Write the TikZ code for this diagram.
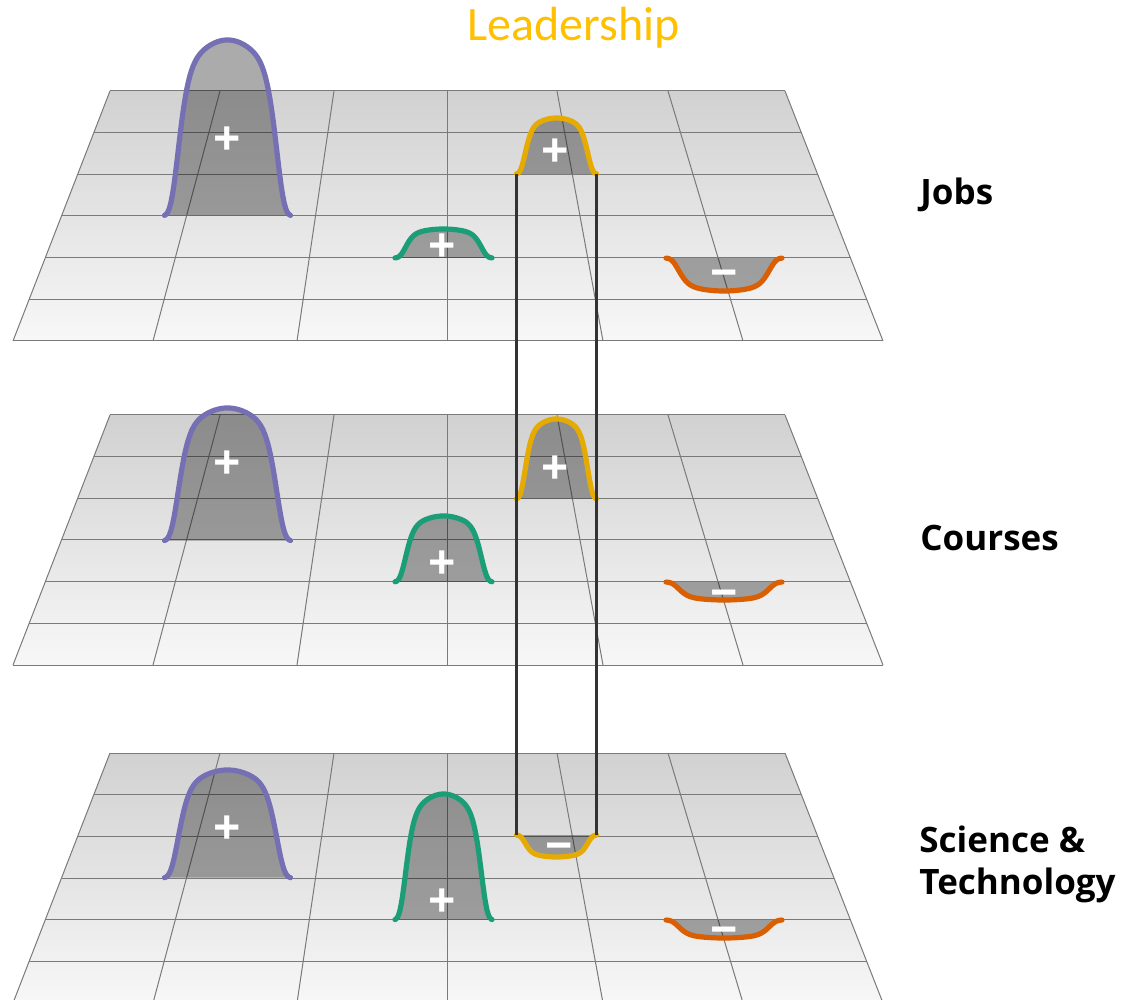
\documentclass[tikz,border=0pt]{standalone}
\usepackage{fontspec}
\newfontfamily\labelfont{Open Sans}
\newfontfamily\titlefont{Carlito}
\usepackage{tikz}

\definecolor{dpurple}{HTML}{7570B3}
\definecolor{dgreen}{HTML}{1B9E77}
\definecolor{dorange}{HTML}{D95F02}
\definecolor{dyellow}{HTML}{E6AB02}
\definecolor{gold}{HTML}{FFC000}

\tikzset{
  gridline/.style={draw=black!52, line width=0.5pt},
  bumpfill/.style={fill=black, fill opacity=0.33},
  bumpline/.style={line width=2.6pt, line cap=round, line join=round},
  link/.style={draw=black!80, line width=1.1pt},
  sign/.style={text=white, font=\labelfont\bfseries\fontsize{24}{24}\selectfont, inner sep=0pt, yshift=-1pt},
  minussign/.style={sign, yshift=-3.5pt},
  layername/.style={anchor=base west, font=\labelfont\bfseries\fontsize{17.5}{21}\selectfont, align=left, inner sep=0pt}
}

% one grid layer, #1 = y of its far edge
\newcommand{\gridlayer}[1]{%
  \shade[top color=black!18, bottom color=black!3] (110,#1) -- (785,#1) -- (883,{#1+250}) -- (13,{#1+250}) -- cycle;
  \foreach \i in {0,...,6}
    \draw[gridline] ({110-97*\i/6},{#1+250*\i/6}) -- ({785+98*\i/6},{#1+250*\i/6});
  \foreach \a/\b in {110/13,220/153,334/297,447/447,557/603,668/743,785/883}
    \draw[gridline] (\a,#1) -- (\b,{#1+250});
}

% bump: colour, centre x, base y, half width, height (<0 = dip), name
\newcommand{\bump}[6]{%
  \fill[bumpfill] plot[domain=-1:1, samples=80] ({#2+#4*\x},{#3-(#5)*exp(-0.4*\x*\x-5.3*(\x)^8)}) -- cycle;
  \draw[bumpline,#1] plot[domain=-1:1, samples=80] ({#2+#4*\x},{#3-(#5)*exp(-0.4*\x*\x-5.3*(\x)^8)});
  \coordinate (#6-l) at ({#2-#4},#3);
  \coordinate (#6-r) at ({#2+#4},#3);
}

\begin{document}
\begin{tikzpicture}[x=0.5pt, y=-0.5pt]
    \useasboundingbox (0,0) rectangle (1126,1000);
    \fill[white] (0,0) rectangle (1126,1000);
    \clip (0,0) rectangle (1126,1000);

    % Jobs
    \gridlayer{91}
    \bump{dpurple}{227.5}{216}{63}{176}{jobsP}
    \bump{dgreen}{443.5}{258}{48.5}{29}{jobsG}
    \bump{dyellow}{556.5}{174}{40}{56}{jobsY}
    \bump{dorange}{724}{258}{58}{-33}{jobsO}
    \node[sign] (jobsPs) at (227,139) {+};
    \node[sign] (jobsGs) at (442,246) {+};
    \node[sign] (jobsYs) at (555,151) {+};
    \node[minussign] (jobsOs) at (724,271) {−};

    % Courses
    \gridlayer{415}
    \bump{dpurple}{227.5}{541}{63}{133}{crsP}
    \bump{dgreen}{443.5}{582}{48.5}{66}{crsG}
    \bump{dyellow}{556.5}{499}{40}{80}{crsY}
    \bump{dorange}{724}{582}{58}{-18}{crsO}
    \node[sign] (crsPs) at (227,463) {+};
    \node[sign] (crsGs) at (442,563) {+};
    \node[sign] (crsYs) at (555,468) {+};
    \node[minussign] (crsOs) at (724,591) {−};

    % Science & Technology
    \gridlayer{753}
    \bump{dpurple}{227.5}{878}{63}{108}{sciP}
    \bump{dgreen}{443.5}{920}{48.5}{126}{sciG}
    \bump{dyellow}{556.5}{835}{40}{-22}{sciY}
    \bump{dorange}{724}{920}{58}{-18}{sciO}
    \node[sign] (sciPs) at (227,828) {+};
    \node[sign] (sciGs) at (442,901) {+};
    \node[minussign] (sciYs) at (559,844) {−};
    \node[minussign] (sciOs) at (724,928) {−};

    % leadership links through the layers
    \draw[link] (jobsY-l) -- (sciY-l);
    \draw[link] (jobsY-r) -- (sciY-r);

    \node[layername] (jobs) at (920,205) {Jobs};
    \node[layername] (courses) at (920,551) {Courses};
    \node[layername] (scitech) at (919,894) {Science \&\\Technology};
    \node[anchor=base west, inner sep=0pt, text=gold, font=\titlefont\fontsize{24}{24}\selectfont] (lead) at (467,41) {Leadership};
\end{tikzpicture}
\end{document}
